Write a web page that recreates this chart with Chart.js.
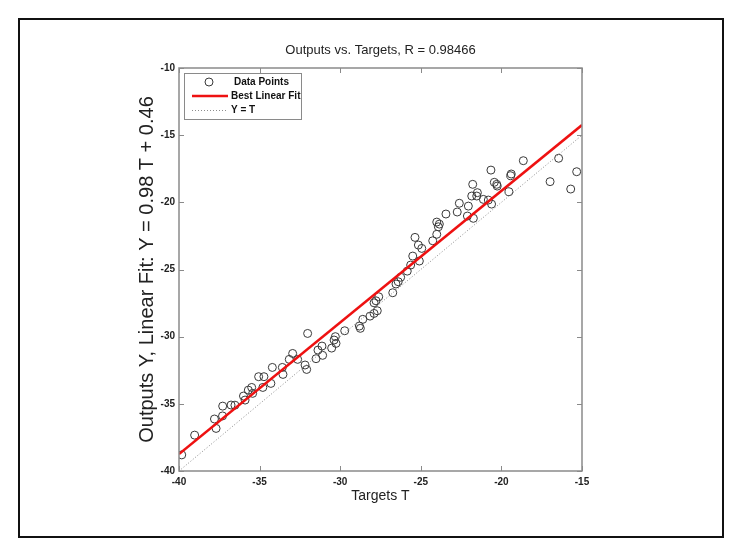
<!DOCTYPE html>
<html>
<head>
<meta charset="utf-8">
<script src="https://cdn.jsdelivr.net/npm/chart.js@4.4.1/dist/chart.umd.min.js"></script>
<style>
  html, body { margin: 0; padding: 0; background: #fff; }
  #wrap { width: 739px; height: 557px; position: relative; }
</style>
</head>
<body>
<div id="wrap"><canvas id="c" width="739" height="557"></canvas></div>
<script>
// ---- data ----
const targets = [
  -39.83, -39.03, -37.80, -37.70, -37.30, -37.29, -36.77, -36.53, -36.00, -35.90,
  -35.70, -35.49, -35.43, -34.80, -34.30, -32.02, -32.95, -33.16, -32.64, -32.18,
  -32.08, -34.21, -33.59, -33.55, -35.06, -34.73, -31.38, -31.13, -31.09, -31.50,
  -30.53, -30.30, -30.38, -30.26, -29.72, -28.81, -28.75, -28.60, -28.15, -27.90,
  -27.70, -27.90, -27.78, -27.61, -26.74, -26.54, -26.40, -26.25, -25.84, -25.63,
  -25.50, -25.09, -24.94, -25.15, -25.36, -24.26, -24.01, -23.91, -23.85, -24.01,
  -23.44, -22.74, -22.61, -22.05, -22.11, -21.74, -20.61, -18.64, -16.45, -15.33,
  -16.98, -15.70, -20.65, -19.39, -19.42, -20.44, -20.29, -20.26, -19.53, -21.78,
  -21.84, -21.49, -21.53, -21.12, -20.81
];
const outputs = [
  -38.80, -37.33, -36.13, -36.83, -35.90, -35.17, -35.09, -35.10, -34.42, -34.72,
  -33.98, -33.78, -34.22, -33.78, -33.48, -29.76, -31.25, -31.69, -31.69, -32.11,
  -32.44, -32.29, -32.29, -32.81, -32.98, -32.98, -31.00, -30.70, -31.39, -31.64,
  -30.85, -30.00, -30.25, -30.50, -29.56, -29.21, -29.38, -28.71, -28.47, -28.27,
  -28.07, -27.48, -27.33, -27.03, -26.73, -26.08, -25.91, -25.58, -25.12, -24.67,
  -24.00, -24.37, -23.43, -23.18, -22.61, -22.86, -22.38, -21.82, -21.62, -21.47,
  -20.87, -20.72, -20.07, -20.28, -21.02, -21.19, -20.13, -16.90, -16.72, -17.72,
  -18.46, -19.01, -17.60, -17.89, -18.02, -18.51, -18.66, -18.79, -19.21, -18.66,
  -19.53, -19.28, -19.53, -19.78, -19.83
];
const fitSlope = 0.98;
const fitIntercept = 0.46;
const fitEnds = [-40, -15];
const identityEnds = [-40, -15];
const xTickValues = [-40, -35, -30, -25, -20, -15];
const yTickValues = [-40, -35, -30, -25, -20, -15, -10];
const titleText = 'Outputs vs. Targets, R = 0.98466';
const xTitle = 'Targets T';
const yTitle = 'Outputs Y, Linear Fit: Y = 0.98 T + 0.46';
const seriesLabels = ['Data Points', 'Best Linear Fit', 'Y = T'];

// ---- build datasets ----
const scatterData = targets.map((t, i) => ({ x: t, y: outputs[i] }));
const fitData = fitEnds.map(t => ({ x: t, y: fitSlope * t + fitIntercept }));
const idData = identityEnds.map(t => ({ x: t, y: t }));

const FONT = '"Liberation Sans", Arial, Helvetica, sans-serif';
Chart.defaults.font.family = FONT;

const decor = {
  id: 'decor',
  beforeDraw(chart) {
    const ctx = chart.ctx;
    ctx.save();
    ctx.fillStyle = '#fff';
    ctx.fillRect(0, 0, chart.width, chart.height);
    ctx.restore();
  },
  afterDraw(chart) {
    const ctx = chart.ctx;
    const a = chart.chartArea;
    const xs = chart.scales.x, ys = chart.scales.y;
    ctx.save();
    // outer frame
    ctx.strokeStyle = '#111';
    ctx.lineWidth = 2;
    ctx.strokeRect(19, 19, 704, 518);
    // title
    ctx.fillStyle = '#222';
    ctx.font = '13px ' + FONT;
    ctx.textAlign = 'center';
    ctx.textBaseline = 'middle';
    ctx.fillText(titleText, (a.left + a.right) / 2, 50);
    // axis box
    ctx.strokeStyle = '#8a8a8a';
    ctx.lineWidth = 1.5;
    ctx.strokeRect(a.left, a.top, a.right - a.left, a.bottom - a.top);
    // inner tick marks on all four sides
    ctx.lineWidth = 1;
    ctx.beginPath();
    xTickValues.forEach(v => {
      const px = Math.round(xs.getPixelForValue(v)) + 0.5;
      ctx.moveTo(px, a.bottom); ctx.lineTo(px, a.bottom - 5);
      ctx.moveTo(px, a.top); ctx.lineTo(px, a.top + 5);
    });
    yTickValues.forEach(v => {
      const py = Math.round(ys.getPixelForValue(v)) + 0.5;
      ctx.moveTo(a.left, py); ctx.lineTo(a.left + 5, py);
      ctx.moveTo(a.right, py); ctx.lineTo(a.right - 5, py);
    });
    ctx.stroke();
    // legend
    const lx = 184, ly = 73, lw = 117, lh = 46;
    ctx.fillStyle = '#fff';
    ctx.fillRect(lx, ly, lw, lh);
    ctx.strokeStyle = '#8a8a8a';
    ctx.lineWidth = 1;
    ctx.strokeRect(lx + 0.5, ly + 0.5, lw, lh);
    const rows = [82, 96, 110.5];
    const ds = chart.data.datasets;
    ctx.font = 'bold 10px ' + FONT;
    ctx.textAlign = 'left';
    ctx.textBaseline = 'middle';
    ctx.strokeStyle = ds[0].borderColor; ctx.lineWidth = 1;
    ctx.beginPath(); ctx.arc(209, rows[0], 4, 0, Math.PI * 2); ctx.stroke();
    ctx.strokeStyle = ds[1].borderColor; ctx.lineWidth = ds[1].borderWidth;
    ctx.beginPath(); ctx.moveTo(192, rows[1]); ctx.lineTo(228, rows[1]); ctx.stroke();
    ctx.strokeStyle = ds[2].borderColor; ctx.lineWidth = ds[2].borderWidth;
    ctx.setLineDash(ds[2].borderDash);
    ctx.beginPath(); ctx.moveTo(192, rows[2]); ctx.lineTo(228, rows[2]); ctx.stroke();
    ctx.setLineDash([]);
    ctx.fillStyle = '#111';
    ds.forEach((d, i) => ctx.fillText(d.label, i === 0 ? 234 : 231, rows[i]));
    ctx.restore();
  }
};

new Chart(document.getElementById('c'), {
  type: 'scatter',
  data: {
    datasets: [
      { label: seriesLabels[0], data: scatterData, showLine: false,
        pointRadius: 4, pointHoverRadius: 4, pointBorderWidth: 1,
        borderColor: '#3a3a3a', backgroundColor: 'rgba(0,0,0,0)', order: 3 },
      { label: seriesLabels[1], type: 'line', data: fitData, borderColor: '#ee1111',
        borderWidth: 2.6, pointRadius: 0, fill: false, order: 1 },
      { label: seriesLabels[2], type: 'line', data: idData, borderColor: '#8c8c8c',
        borderWidth: 1, borderDash: [1, 2], pointRadius: 0, fill: false, order: 2 }
    ]
  },
  options: {
    responsive: false,
    animation: false,
    devicePixelRatio: 1,
    layout: { padding: { left: 131, top: 68, right: 157, bottom: 52 } },
    plugins: { legend: { display: false }, tooltip: { enabled: false }, title: { display: false } },
    scales: {
      x: {
        type: 'linear', min: -40, max: -15,
        afterFit(s) { s.height = 34; },
        afterBuildTicks(s) { s.ticks = xTickValues.map(v => ({ value: v })); },
        ticks: { font: { size: 10, weight: 'bold' }, color: '#222', padding: 5, maxRotation: 0 },
        grid: { display: false, drawTicks: false },
        border: { display: false },
        title: { display: true, text: xTitle, font: { size: 14 }, color: '#222', padding: { top: 0, bottom: 0 } }
      },
      y: {
        type: 'linear', min: -40, max: -10,
        afterFit(s) { s.width = 48; },
        afterBuildTicks(s) { s.ticks = yTickValues.map(v => ({ value: v })); },
        ticks: { font: { size: 10, weight: 'bold' }, color: '#222', padding: 4 },
        grid: { display: false, drawTicks: false },
        border: { display: false },
        title: { display: true, text: yTitle, font: { size: 20 }, color: '#222', padding: { top: 4, bottom: 4 } }
      }
    }
  },
  plugins: [decor]
});
</script>
</body>
</html>
